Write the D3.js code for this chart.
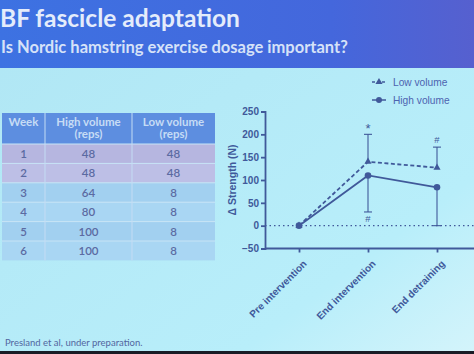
<!DOCTYPE html>
<html><head><meta charset="utf-8">
<script src="https://cdn.jsdelivr.net/npm/d3@7"></script>
<style>
html,body{margin:0;padding:0;background:#b4eaf6;}
svg{display:block;}
</style></head>
<body>
<svg id="c" width="474" height="354"></svg>
<script>
// ---- data ----
const timepoints = ["Pre intervention", "End intervention", "End detraining"];
const highVolume = [0, 110, 84];
const lowVolume = [0, 140, 127];
const highErrLow = [0, 30, 0];      // lower whisker ends (high volume)
const lowErrHigh = [0, 200, 172];   // upper whisker ends (low volume)
const lowMarks = ["", "*", "#"];
const highMarks = ["", "#", ""];
const yTicks = [-50, 0, 50, 100, 150, 200, 250];
const tableHeader = ["Week", "High volume\n(reps)", "Low volume\n(reps)"];
const weeks = [1, 2, 3, 4, 5, 6];
const highReps = [48, 48, 64, 80, 100, 100];
const lowReps = [48, 48, 8, 8, 8, 8];

const svg = d3.select("#c");
const defs = svg.append("defs");
const g1 = defs.append("linearGradient").attr("id", "hdr").attr("x1", 0).attr("x2", 1).attr("y1", 0).attr("y2", 0);
g1.append("stop").attr("offset", "0%").attr("stop-color", "#3d72e2");
g1.append("stop").attr("offset", "70%").attr("stop-color", "#4467dc");
g1.append("stop").attr("offset", "100%").attr("stop-color", "#5660cf");
const g2 = defs.append("linearGradient").attr("id", "bg").attr("x1", 0).attr("x2", 1).attr("y1", 0).attr("y2", 1);
g2.append("stop").attr("offset", "0%").attr("stop-color", "#b0e6f4");
g2.append("stop").attr("offset", "75%").attr("stop-color", "#b8eefa");
g2.append("stop").attr("offset", "100%").attr("stop-color", "#d4f4fb");

svg.append("rect").attr("width", 474).attr("height", 354).attr("fill", "url(#bg)");
svg.append("rect").attr("width", 474).attr("height", 68).attr("fill", "url(#hdr)");
svg.append("rect").attr("y", 351).attr("width", 474).attr("height", 3).attr("fill", "#1a1c26");

svg.append("text").attr("x", 0).attr("y", 27).text("BF fascicle adaptation")
  .attr("font-family", "Lato, 'Open Sans', sans-serif").attr("font-size", 24.5).attr("font-weight", 700)
  .attr("fill", "#e4ecfb");
svg.append("text").attr("x", 1).attr("y", 53).text("Is Nordic hamstring exercise dosage important?")
  .attr("font-family", "Lato, 'Open Sans', sans-serif").attr("font-size", 16.5).attr("font-weight", 700)
  .attr("fill", "#d6e2f8");

// ---- table ----
const colX = [2, 45, 132, 215];
const headerTop = 113, headerH = 31, rowH = 19.4;
const tg = svg.append("g").attr("font-family", "Lato, 'Open Sans', sans-serif");
tg.append("rect").attr("x", colX[0]).attr("y", headerTop).attr("width", colX[3] - colX[0]).attr("height", headerH).attr("fill", "#5d8ee0");
tableHeader.forEach((h, i) => {
  const cx = (colX[i] + colX[i + 1]) / 2;
  const lines = h.split("\n");
  lines.forEach((ln, j) => {
    tg.append("text").attr("x", cx).attr("y", lines.length === 1 ? headerTop + 13 : headerTop + 13 + j * 12)
      .attr("text-anchor", "middle").attr("font-size", 11.5).attr("font-weight", 700)
      .attr("fill", "#c6dcf5").text(ln);
  });
});
weeks.forEach((w, i) => {
  const y = headerTop + headerH + i * rowH;
  const fill = i < 2 ? (i % 2 ? "#bdbfe6" : "#b6b6e0") : (i % 2 ? "#a9d6f3" : "#a2d0f0");
  tg.append("rect").attr("x", colX[0]).attr("y", y).attr("width", colX[3] - colX[0]).attr("height", rowH).attr("fill", fill);
  tg.append("line").attr("x1", colX[0]).attr("x2", colX[3]).attr("y1", y).attr("y2", y).attr("stroke", "#c8e4f6").attr("stroke-width", 1);
  [w, highReps[i], lowReps[i]].forEach((v, k) => {
    tg.append("text").attr("x", (colX[k] + colX[k + 1]) / 2).attr("y", y + 14)
      .attr("text-anchor", "middle").attr("font-size", 11.5).attr("font-weight", 600).attr("fill", "#5b6aa2").text(v);
  });
});
[colX[1], colX[2]].forEach(x => {
  tg.append("line").attr("x1", x).attr("x2", x).attr("y1", headerTop).attr("y2", headerTop + headerH + 6 * rowH)
    .attr("stroke", "#c4dcf4").attr("stroke-width", 1);
});

// ---- chart ----
const col = "#40599a";
const x = d3.scalePoint().domain(timepoints).range([299, 437]);
const y = d3.scaleLinear().domain([-50, 250]).range([248.5, 111.5]);
const cg = svg.append("g").attr("font-family", "'Liberation Sans', Arial, sans-serif").attr("font-weight", 700);

const yAxis = cg.append("g").attr("transform", "translate(265,0)")
  .call(d3.axisLeft(y).tickValues(yTicks).tickSize(4).tickPadding(2));
yAxis.selectAll("path,line").attr("stroke", col).attr("stroke-width", 1.8);
yAxis.selectAll("text").attr("fill", col).attr("font-size", 10).attr("font-family", "'Liberation Sans', Arial, sans-serif").attr("font-weight", 700);

const xAxis = cg.append("g").attr("transform", "translate(0,248.5)")
  .call(d3.axisBottom(x).tickSize(4).tickSizeOuter(0));
xAxis.select(".domain").remove();
cg.append("line").attr("x1", 265).attr("x2", 474).attr("y1", 248.5).attr("y2", 248.5).attr("stroke", col).attr("stroke-width", 1.8);
xAxis.selectAll("line").attr("stroke", col).attr("stroke-width", 1.8);
xAxis.selectAll("text").attr("fill", col).attr("font-size", 10).attr("font-family", "'Liberation Sans', Arial, sans-serif").attr("font-weight", 700)
  .attr("text-anchor", "end").attr("dy", 0).attr("transform", "translate(3,11) rotate(-45)");

// zero dotted line
cg.append("line").attr("x1", 265).attr("x2", 474).attr("y1", y(0)).attr("y2", y(0))
  .attr("stroke", col).attr("stroke-width", 1.2).attr("stroke-dasharray", "1.5,3");

// y label
cg.append("text").attr("transform", `translate(236,${y(100)}) rotate(-90)`).attr("text-anchor", "middle")
  .attr("font-size", 10.5).attr("fill", col).text("\u0394 Strength (N)");

// error bars
const errG = cg.append("g").attr("stroke", col).attr("stroke-width", 1.1);
timepoints.forEach((t, i) => {
  if (i === 0) return;
  errG.append("line").attr("x1", x(t)).attr("x2", x(t)).attr("y1", y(lowVolume[i])).attr("y2", y(lowErrHigh[i]));
  errG.append("line").attr("x1", x(t) - 4).attr("x2", x(t) + 4).attr("y1", y(lowErrHigh[i])).attr("y2", y(lowErrHigh[i]));
  errG.append("line").attr("x1", x(t)).attr("x2", x(t)).attr("y1", y(highVolume[i])).attr("y2", y(highErrLow[i]));
  errG.append("line").attr("x1", x(t) - 4).attr("x2", x(t) + 4).attr("y1", y(highErrLow[i])).attr("y2", y(highErrLow[i]));
});

const line = d3.line().x((d, i) => x(timepoints[i])).y(d => y(d));
cg.append("path").datum(lowVolume).attr("d", line).attr("fill", "none").attr("stroke", col).attr("stroke-width", 1.8).attr("stroke-dasharray", "4,2.5");
cg.append("path").datum(highVolume).attr("d", line).attr("fill", "none").attr("stroke", col).attr("stroke-width", 1.8);

const tri = d3.symbol().type(d3.symbolTriangle).size(22);
cg.selectAll(".tri").data(lowVolume).join("path").attr("transform", (d, i) => `translate(${x(timepoints[i])},${y(d)})`)
  .attr("d", tri).attr("fill", col);
cg.selectAll(".dot").data(highVolume).join("circle").attr("cx", (d, i) => x(timepoints[i])).attr("cy", d => y(d))
  .attr("r", 3.3).attr("fill", col);

// significance marks
lowMarks.forEach((m, i) => {
  if (!m) return;
  cg.append("text").attr("x", x(timepoints[i])).attr("y", y(lowErrHigh[i]) - (m === "*" ? 1 : 4)).attr("text-anchor", "middle")
    .attr("font-size", m === "*" ? 13 : 9.5).attr("font-weight", 400).attr("fill", col).text(m);
});
highMarks.forEach((m, i) => {
  if (!m) return;
  cg.append("text").attr("x", x(timepoints[i])).attr("y", y(highErrLow[i]) + 10).attr("text-anchor", "middle")
    .attr("font-size", 9.5).attr("font-weight", 400).attr("fill", col).text(m);
});

// legend
const lg = cg.append("g").attr("font-weight", 400);
lg.append("line").attr("x1", 372).attr("x2", 386).attr("y1", 82).attr("y2", 82).attr("stroke", col).attr("stroke-width", 1.5).attr("stroke-dasharray", "3,2");
lg.append("path").attr("transform", "translate(379,82)").attr("d", tri).attr("fill", col);
lg.append("text").attr("x", 393).attr("y", 86).attr("font-size", 10.2).attr("fill", "#4d63b0").text("Low volume");
lg.append("line").attr("x1", 372).attr("x2", 386).attr("y1", 100).attr("y2", 100).attr("stroke", col).attr("stroke-width", 1.5);
lg.append("circle").attr("cx", 379).attr("cy", 100).attr("r", 3).attr("fill", col);
lg.append("text").attr("x", 393).attr("y", 104).attr("font-size", 10.2).attr("fill", "#4d63b0").text("High volume");

// footer
svg.append("text").attr("x", 5).attr("y", 346).attr("font-family", "Lato, 'Open Sans', sans-serif").attr("font-size", 9.5)
  .attr("fill", "#5266a0").text("Presland et al, under preparation.");
</script>
</body></html>
